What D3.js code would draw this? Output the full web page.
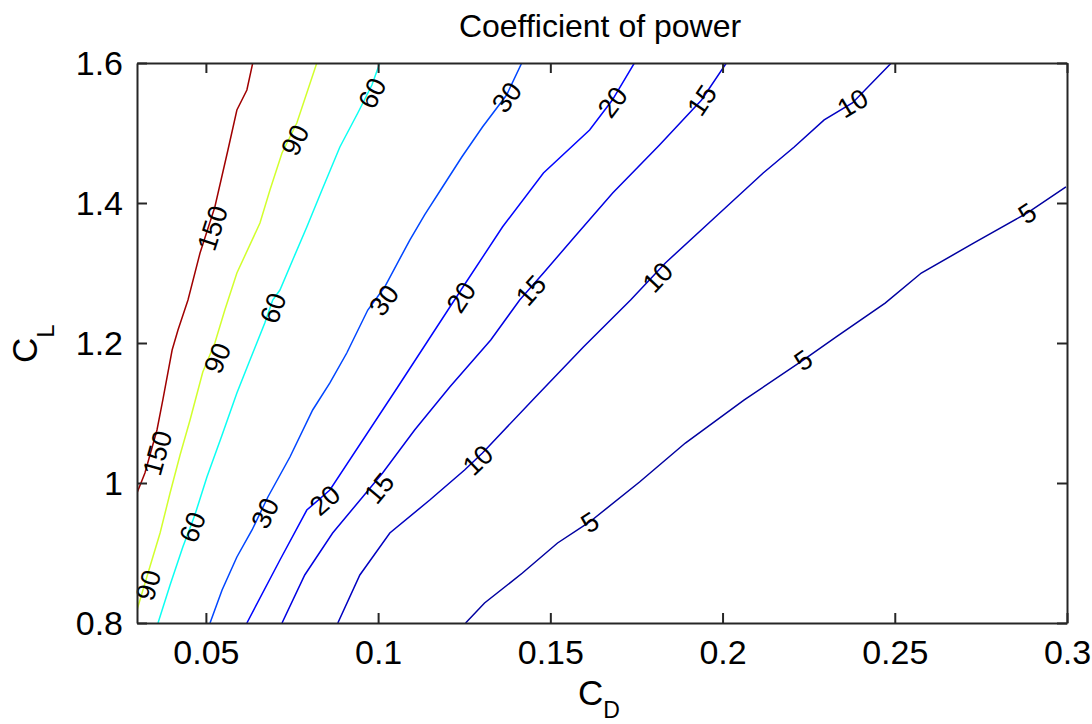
<!DOCTYPE html>
<html>
<head>
<meta charset="utf-8">
<script src="https://cdn.jsdelivr.net/npm/d3@7"></script>
<style>
  body { margin: 0; background: #fff; }
  text { font-family: "Liberation Sans", Arial, sans-serif; fill: #000; }
</style>
</head>
<body>
<div id="chart"></div>
<script>
// contour levels (C_D, C_L pairs)
var levels = [150, 90, 60, 30, 20, 15, 10, 5];

var line150 = [[0.0636,1.6],[0.0619,1.5614],[0.0590,1.5329],[0.0564,1.4757],[0.0526,1.3943],
  [0.0483,1.3286],[0.0448,1.2614],[0.0419,1.2186],[0.0402,1.19],[0.0375,1.1186],
  [0.0358,1.0757],[0.0323,1.0143],[0.03,0.9857]];
var line90 = [[0.0822,1.6],[0.0764,1.5143],[0.0721,1.4714],[0.0686,1.4186],[0.0657,1.3714],
  [0.0590,1.3],[0.0555,1.2471],[0.0526,1.2],[0.0491,1.1586],[0.0454,1.09],[0.0425,1.04],
  [0.0396,0.9857],[0.0367,0.9286],[0.0332,0.8714],[0.0306,0.8286],[0.03,0.8186]];
var line60 = [[0.1005,1.6],[0.0982,1.5686],[0.0941,1.5286],[0.0889,1.48],[0.0837,1.4186],
  [0.0793,1.3657],[0.0752,1.3186],[0.0715,1.2757],[0.0694,1.2614],[0.0671,1.2286],
  [0.0628,1.1757],[0.0590,1.1286],[0.0547,1.0686],[0.0503,1.0086],[0.0468,0.9543],
  [0.0433,0.9086],[0.0396,0.8543],[0.0361,0.8]];
var line30 = [[0.1417,1.6],[0.1373,1.5543],[0.1303,1.5086],[0.1243,1.4657],[0.1187,1.4229],
  [0.1135,1.3829],[0.1092,1.3471],[0.1019,1.28],[0.0970,1.2471],[0.0909,1.1857],
  [0.0860,1.1429],[0.0810,1.1043],[0.0744,1.0371],[0.0680,0.98],[0.0634,0.9329],
  [0.0590,0.8943],[0.0547,0.8471],[0.0512,0.8]];
var line20 = [[0.1744,1.6],[0.1680,1.5471],[0.1614,1.5043],[0.1480,1.4429],[0.1361,1.3657],
  [0.1254,1.2857],[0.1216,1.2571],[0.1057,1.1371],[0.0860,0.99],[0.0793,0.9614],
  [0.0715,0.89],[0.0619,0.8]];
var line15 = [[0.2011,1.6],[0.1939,1.5471],[0.1817,1.4829],[0.1681,1.4143],[0.1570,1.3514],
  [0.1480,1.3],[0.1411,1.2614],[0.1327,1.2043],[0.1208,1.1371],[0.1106,1.0757],
  [0.1013,1.0143],[0.0955,0.98],[0.0868,0.9286],[0.0787,0.8686],[0.0721,0.8]];
var line10 = [[0.2490,1.6],[0.2377,1.5429],[0.2295,1.5186],[0.2208,1.48],[0.2118,1.4429],
  [0.1976,1.3786],[0.1834,1.3143],[0.1733,1.2614],[0.1596,1.1943],[0.1457,1.1229],
  [0.1303,1.0429],[0.1251,1.0186],[0.1150,0.9757],[0.1034,0.9286],[0.0947,0.8686],[0.0883,0.8]];
var line5 = [[0.1254,0.8],[0.1309,0.8286],[0.1419,0.8714],[0.1521,0.9143],[0.1614,0.9443],
  [0.1759,1.0014],[0.1892,1.0571],[0.2063,1.1186],[0.2234,1.1757],[0.2330,1.2086],
  [0.2472,1.2571],[0.2577,1.3],[0.2730,1.3429],[0.2884,1.3857],[0.2997,1.4229]];

// where the inline labels sit
var labels150 = [[0.0518,1.3643],[0.0358,1.0429]];
var labels90 = [[0.0758,1.49],[0.0532,1.1786],[0.0332,0.8543]];
var labels60 = [[0.0982,1.5571],[0.0694,1.25],[0.0460,0.9371]];
var labels30 = [[0.1373,1.5514],[0.1016,1.2614],[0.0671,0.9571]];
var labels20 = [[0.1680,1.5443],[0.1240,1.2657],[0.0845,0.9757]];
var labels15 = [[0.1939,1.5471],[0.1443,1.2757],[0.1002,0.9929]];
var labels10 = [[0.2377,1.5429],[0.1811,1.2943],[0.1289,1.0329]];
var labels5 = [[0.2884,1.3857],[0.2234,1.1757],[0.1614,0.9443]];

var xTicks = [0.05, 0.1, 0.15, 0.2, 0.25, 0.3];
var yTicks = [0.8, 1, 1.2, 1.4, 1.6];

var contours = [
  {level: 150, pts: line150, labels: labels150},
  {level: 90, pts: line90, labels: labels90},
  {level: 60, pts: line60, labels: labels60},
  {level: 30, pts: line30, labels: labels30},
  {level: 20, pts: line20, labels: labels20},
  {level: 15, pts: line15, labels: labels15},
  {level: 10, pts: line10, labels: labels10},
  {level: 5, pts: line5, labels: labels5}
];

var W = 1092, H = 724;
var mLeft = 137, mRight = 1067, mTop = 63, mBottom = 623;

var svg = d3.select("#chart").append("svg")
  .attr("width", W)
  .attr("height", H);

var x = d3.scaleLinear().domain([0.03, 0.3]).range([mLeft, mRight]);
var y = d3.scaleLinear().domain([0.8, 1.6]).range([mBottom, mTop]);

// matlab jet colormap
var jet = function(t) {
  var c = function(v) { return Math.round(255 * Math.max(0, Math.min(1, v))); };
  var r = Math.min(4*t - 1.5, -4*t + 4.5);
  var g = Math.min(4*t - 0.5, -4*t + 3.5);
  var b = Math.min(4*t + 0.5, -4*t + 2.5);
  return "rgb(" + c(r) + "," + c(g) + "," + c(b) + ")";
};
var colorOf = function(level) { return jet(level / 155); };

svg.append("clipPath").attr("id", "plotclip")
  .append("rect")
    .attr("x", mLeft).attr("y", mTop)
    .attr("width", mRight - mLeft).attr("height", mBottom - mTop);

var line = d3.line()
  .x(function(d) { return x(d[0]); })
  .y(function(d) { return y(d[1]); });

var plot = svg.append("g").attr("clip-path", "url(#plotclip)");

plot.selectAll(".contour")
  .data(contours)
  .enter()
  .append("path")
    .attr("class", "contour")
    .attr("d", function(d) { return line(d.pts); })
    .style("fill", "none")
    .style("stroke", function(d) { return colorOf(d.level); })
    .style("stroke-width", 1.5);

// angle of the line under a label, in screen pixels
var angleAt = function(pts, lab) {
  var px = x(lab[0]), py = y(lab[1]);
  var best = null, bestD = Infinity;
  for (var i = 0; i < pts.length - 1; i++) {
    var ax = x(pts[i][0]), ay = y(pts[i][1]);
    var bx = x(pts[i+1][0]), by = y(pts[i+1][1]);
    var mx = (ax + bx) / 2, my = (ay + by) / 2;
    var dd = (mx - px) * (mx - px) + (my - py) * (my - py);
    if (dd < bestD) { bestD = dd; best = [ax, ay, bx, by]; }
  }
  var dx = best[2] - best[0], dy = best[3] - best[1];
  if (dx < 0) { dx = -dx; dy = -dy; }
  return Math.atan2(dy, dx) * 180 / Math.PI;
};

var labelData = [];
contours.forEach(function(c) {
  c.labels.forEach(function(l) {
    labelData.push({level: c.level, pos: l, angle: angleAt(c.pts, l)});
  });
});

svg.selectAll(".clabel")
  .data(labelData)
  .enter()
  .append("text")
    .attr("class", "clabel")
    .attr("transform", function(d) {
      return "translate(" + x(d.pos[0]) + "," + y(d.pos[1]) + ") rotate(" + d.angle + ")";
    })
    .attr("text-anchor", "middle")
    .attr("dy", "0.36em")
    .style("font-size", "27px")
    .text(function(d) { return d.level; });

// axes, ticks point inwards on all four sides
var axisStyle = function(g) {
  g.select(".domain").style("stroke", "#262626").style("stroke-width", 2);
  g.selectAll(".tick line").style("stroke", "#262626").style("stroke-width", 2);
  g.selectAll("text").style("font-size", "34px").style("font-family", "\"Liberation Sans\", Arial, sans-serif").attr("fill", "#000");
};

svg.append("g")
  .attr("transform", "translate(0," + mBottom + ")")
  .call(d3.axisBottom(x).tickValues(xTicks).tickSizeInner(-10).tickSizeOuter(0).tickPadding(17)
    .tickFormat(function(d) { return d3.format("")(+d.toFixed(2)); }))
  .call(axisStyle);

svg.append("g")
  .attr("transform", "translate(0," + mTop + ")")
  .call(d3.axisTop(x).tickValues(xTicks).tickSizeInner(-10).tickSizeOuter(0).tickFormat(""))
  .call(axisStyle);

svg.append("g")
  .attr("transform", "translate(" + mLeft + ",0)")
  .call(d3.axisLeft(y).tickValues(yTicks).tickSizeInner(-10).tickSizeOuter(0).tickPadding(14)
    .tickFormat(function(d) { return d3.format("")(+d.toFixed(1)); }))
  .call(axisStyle)
  .selectAll("text").attr("dy", "0.35em");

svg.append("g")
  .attr("transform", "translate(" + mRight + ",0)")
  .call(d3.axisRight(y).tickValues(yTicks).tickSizeInner(-10).tickSizeOuter(0).tickFormat(""))
  .call(axisStyle);

// title and axis labels
svg.append("text")
  .attr("x", 600)
  .attr("y", 37)
  .attr("text-anchor", "middle")
  .style("font-size", "32px")
  .text("Coefficient of power");

var xlab = svg.append("text")
  .attr("x", 578)
  .attr("y", 705)
  .style("font-size", "35px")
  .text("C");
xlab.append("tspan")
  .attr("dy", 13)
  .style("font-size", "23px")
  .text("D");

var ylab = svg.append("text")
  .attr("transform", "translate(37,363) rotate(-90)")
  .style("font-size", "35px")
  .text("C");
ylab.append("tspan")
  .attr("dy", 17)
  .style("font-size", "24px")
  .text("L");
</script>
</body>
</html>
